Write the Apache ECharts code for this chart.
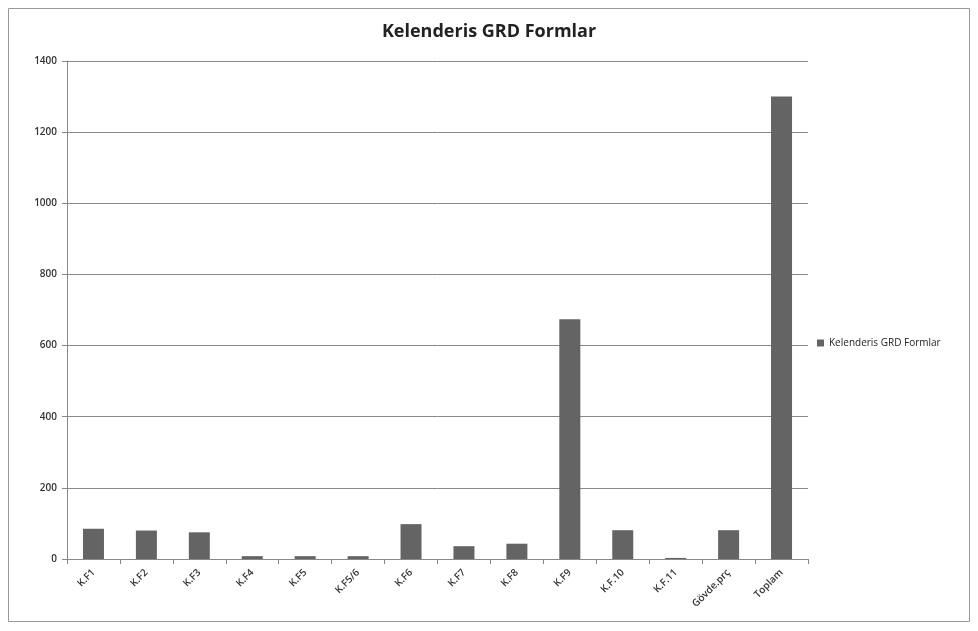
<!DOCTYPE html>
<html>
<head>
<meta charset="utf-8">
<script src="https://cdn.jsdelivr.net/npm/echarts@6/dist/echarts.min.js"></script>
<style>
  html, body { margin: 0; padding: 0; background: #fff; }
  #chart { width: 978px; height: 631px; }
</style>
</head>
<body>
<div id="chart"></div>
<script>
// data
var categories = ['K.F1', 'K.F2', 'K.F3', 'K.F4', 'K.F5', 'K.F5/6', 'K.F6', 'K.F7', 'K.F8', 'K.F9', 'K.F.10', 'K.F.11', 'Gövde.prç', 'Toplam'];
var values = [85, 80, 75, 8, 8, 8, 98, 36, 43, 674, 81, 3, 81, 1300];
var seriesName = 'Kelenderis GRD Formlar';

var font = '"Open Sans", "DejaVu Sans", sans-serif';
var chart = echarts.init(document.getElementById('chart'));

chart.setOption({
  backgroundColor: '#fff',
  animation: false,
  title: {
    text: 'Kelenderis GRD Formlar',
    left: 'center',
    top: 18,
    textStyle: { fontFamily: font, fontSize: 18, fontWeight: 'bold', color: '#222' }
  },
  legend: {
    data: [{ name: seriesName, icon: 'rect' }],
    orient: 'vertical',
    left: 812,
    top: 333,
    itemWidth: 7,
    itemHeight: 7,
    itemGap: 4,
    textStyle: { fontFamily: font, fontSize: 10, color: '#222' }
  },
  graphic: [{
    type: 'rect',
    shape: { x: 8.5, y: 8.5, width: 961, height: 613 },
    style: { fill: 'none', stroke: '#999', lineWidth: 1 },
    silent: true
  }],
  grid: { left: 67, right: 170, top: 61, bottom: 72 },
  xAxis: {
    type: 'category',
    data: categories,
    axisLine: { lineStyle: { color: '#888' } },
    axisTick: { show: true, length: 5, lineStyle: { color: '#888' } },
    axisLabel: { rotate: 45, fontFamily: font, fontSize: 10, fontWeight: 600, color: '#333', margin: 12, interval: 0 }
  },
  yAxis: {
    type: 'value',
    min: 0,
    max: 1400,
    interval: 200,
    axisLine: { show: true, lineStyle: { color: '#888' } },
    axisTick: { show: true, length: 5, lineStyle: { color: '#888' } },
    splitLine: { lineStyle: { color: '#888', width: 1 } },
    axisLabel: {
      fontFamily: font, fontSize: 10, fontWeight: 600, color: '#333', margin: 10,
      formatter: function (v) { return String(v); }
    }
  },
  series: [{
    name: seriesName,
    type: 'bar',
    data: values,
    barWidth: 21,
    itemStyle: { color: '#646464' }
  }]
});
</script>
</body>
</html>
